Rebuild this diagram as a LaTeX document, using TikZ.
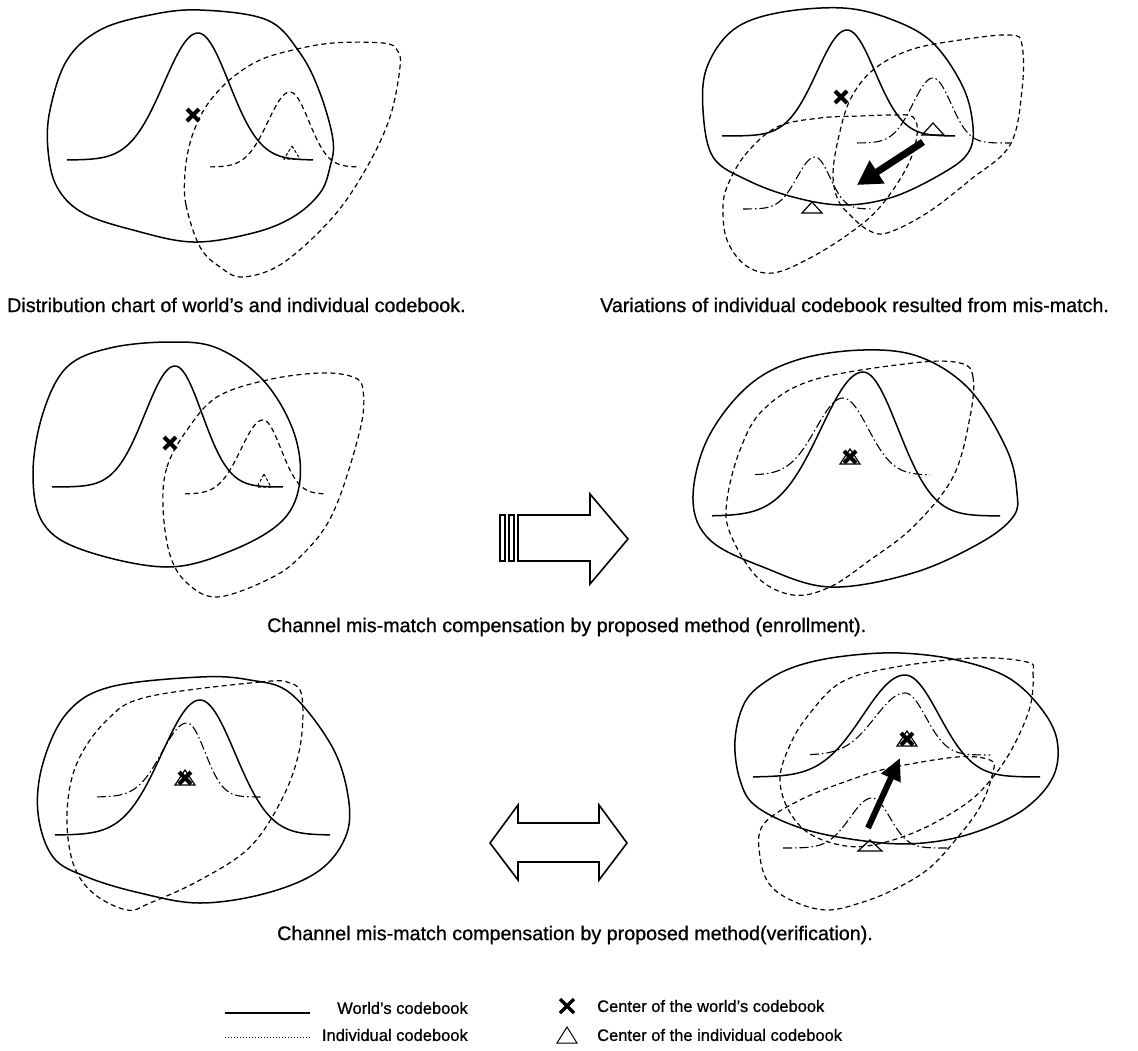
\documentclass[tikz,border=0pt]{standalone}
\usepackage{fontspec}
\setmainfont{Liberation Sans}[FakeBold=0.8]
\usetikzlibrary{arrows.meta}
\newcommand{\gss}[8]{\draw[#8] plot[domain=#1:#3, samples=50] (\x, {#4-#5*exp(-((\x-#3)/#6)*((\x-#3)/#6)/2)}) -- plot[domain=#3:#2, samples=50] (\x, {#4-#5*exp(-((\x-#3)/#7)*((\x-#3)/#7)/2)});}
\newcommand{\crossat}[2]{\draw[line width=4pt, shift={(#1)}] (-#2,-#2) -- (#2,#2) (-#2,#2) -- (#2,-#2);}
\newcommand{\triat}[4]{\draw[#4, shift={(#1)}] (0,-#2) -- (#3,0) -- (-#3,0) -- cycle;}
\begin{document}
\begin{tikzpicture}[x=1pt,y=-1pt,
  world/.style={line width=1.5pt, line join=round},
  indiv/.style={line width=1.2pt, dash pattern=on 5pt off 3.5pt},
  shifted/.style={line width=1.1pt, dash pattern=on 9pt off 3pt on 1.5pt off 3pt},
  captxt/.style={font=\fontsize{19.7}{23}\selectfont, inner sep=0pt},
  legtxt/.style={font=\fontsize{16.5}{20}\selectfont, inner sep=0pt},
  tri/.style={line width=1.2pt, line join=miter},
  smalltri/.style={line width=1pt, densely dashed},
  bigarrow/.style={line width=7pt, -{Triangle[length=24pt,width=26pt]}},
  hollow/.style={line width=1.6pt, line join=miter},
]
\useasboundingbox (0,0) rectangle (1138,1050);

% ---------- Panel 1 ----------
\draw[world] plot[smooth cycle, tension=0.6] coordinates {(200,10) (267,20) (300,53) (320,93) (333,140) (330,167) (320,193) (293,217) (253,233) (193,242) (133,230) (83,213) (57,187) (48,150) (50,110) (67,60) (100,30) (150,15)};
\gss{67}{313}{198}{160}{127}{34}{31}{world}
\draw[indiv] plot[smooth cycle, tension=0.6] coordinates {(185,173) (186,205) (200,247) (220,267) (243,277) (283,263) (333,217) (367,167) (390,117) (400,67) (397,50) (383,43) (333,43) (293,50) (260,60) (233,77) (213,97) (200,117) (190,143)};
\gss{210}{360}{290}{167}{75}{22}{19}{indiv}
\crossat{193,115}{6}
\triat{292,159}{13}{8}{smalltri}

% ---------- Panel 2 ----------
\draw[world] plot[smooth cycle, tension=0.6] coordinates {(843,8) (893,20) (933,43) (963,87) (973,127) (968,153) (943,173) (893,197) (843,205) (793,197) (747,180) (713,157) (703,110) (707,67) (733,30) (777,13)};
\gss{722}{955}{847}{136}{106}{30}{28}{world}
\draw[indiv] plot[smooth cycle, tension=0.6] coordinates {(833,175) (838,140) (850,100) (873,70) (910,50) (960,40) (1010,35) (1022,45) (1022,90) (1010,145) (970,180) (927,213) (887,233) (868,230) (850,215) (838,200)};
\gss{857}{1010}{933}{143}{65}{20}{18}{shifted}
\draw[indiv] plot[smooth cycle, tension=0.6] coordinates {(727,187) (745,155) (777,127) (820,118) (860,116) (893,115) (913,117) (917,135) (907,167) (880,207) (850,233) (810,258) (773,273) (745,265) (727,240) (723,210)};
\gss{743}{873}{815}{209}{52}{18}{15}{shifted}
\crossat{841,97}{6}
\triat{933,135}{12}{11}{tri}
\triat{812,213}{11}{10}{tri}
\draw[bigarrow] (923,142) -- (857,185);

\node[captxt, anchor=west] (cap1) at (7,305) {Distribution chart of world's and individual codebook.};
\node[captxt, anchor=west] (cap2) at (600,305) {Variations of individual codebook resulted from mis-match.};

% ---------- Panel 3 ----------
\draw[world] plot[smooth cycle, tension=0.6] coordinates {(170,342) (217,348) (263,380) (293,430) (300,480) (283,520) (233,550) (167,567) (83,550) (43,523) (33,473) (43,413) (67,367) (110,348)};
\gss{52}{283}{175}{487}{121}{30}{27}{world}
\draw[indiv] plot[smooth cycle, tension=0.6] coordinates {(163,507) (167,467) (187,430) (217,397) (267,380) (320,373) (353,377) (363,390) (360,430) (333,513) (300,557) (267,580) (217,597) (187,583) (170,555)};
\gss{185}{325}{263}{494}{74}{22}{18}{indiv}
\crossat{170,443}{6}
\triat{264,487}{13}{7}{smalltri}

% enrollment arrow
\draw[hollow] (500,515) rectangle (505,561);
\draw[hollow] (509,515) rectangle (514,561);
\draw[hollow] (518,515) -- (590,515) -- (590,494) -- (628,539) -- (590,584) -- (590,561) -- (518,561) -- cycle;

% ---------- Panel 4 ----------
\draw[world] plot[smooth cycle, tension=0.6] coordinates {(863,350) (920,357) (970,390) (1007,450) (1017,493) (1013,517) (980,543) (913,573) (830,587) (763,567) (710,540) (693,500) (707,440) (747,387) (797,360)};
\gss{712}{1000}{863}{516}{144}{42}{35}{world}
\draw[indiv] plot[smooth cycle, tension=0.6] coordinates {(960,363) (973,377) (970,417) (953,477) (913,527) (870,560) (830,587) (793,595) (757,577) (730,533) (727,500) (740,450) (763,410) (813,380) (913,363)};
\gss{755}{930}{843}{475}{77}{27}{25}{shifted}
\triat{850,464}{15}{10}{tri}
\crossat{850,457}{6}

\node[captxt, anchor=west] (cap3) at (267,627) {Channel mis-match compensation by proposed method (enrollment).};

% ---------- Panel 5 ----------
\draw[world] plot[smooth cycle, tension=0.6] coordinates {(200,677) (250,680) (290,693) (330,743) (347,790) (347,833) (320,870) (267,893) (200,903) (140,893) (87,877) (53,857) (38,813) (43,763) (67,713) (110,687)};
\gss{55}{330}{200}{835}{135}{38}{35}{world}
\draw[indiv] plot[smooth cycle, tension=0.6] coordinates {(147,697) (260,682) (290,683) (302,697) (300,747) (283,797) (250,847) (200,880) (150,903) (127,910) (93,893) (73,863) (67,813) (77,763) (107,720)};
\gss{97}{263}{187}{797}{74}{25}{18}{shifted}
\triat{185,785}{15}{10}{tri}
\crossat{185,778}{6}

% verification double arrow
\draw[hollow] (490,843) -- (518,805) -- (518,823) -- (599,823) -- (599,805) -- (627,843) -- (599,880) -- (599,862) -- (518,862) -- (518,880) -- cycle;

% ---------- Panel 6 ----------
\draw[world] plot[smooth cycle, tension=0.6] coordinates {(900,653) (957,660) (1007,677) (1040,707) (1057,740) (1053,777) (1023,810) (973,833) (923,843) (873,842) (807,830) (757,807) (740,780) (735,740) (745,702) (768,680) (800,665) (845,656)};
\gss{753}{1040}{905}{777}{102}{42}{34}{world}
\draw[indiv] plot[smooth cycle, tension=0.6] coordinates {(1027,662) (1033,673) (1030,707) (1013,747) (993,777) (967,803) (920,830) (873,845) (840,845) (807,832) (787,807) (780,777) (790,745) (807,717) (840,683) (890,668) (973,658)};
\gss{810}{990}{905}{755}{62}{30}{21}{shifted}
\draw[indiv] plot[smooth cycle, tension=0.6] coordinates {(763,825) (800,800) (850,780) (890,768) (957,757) (990,760) (993,772) (980,807) (953,843) (927,870) (893,890) (860,903) (827,910) (795,902) (770,885) (760,857)};
\gss{783}{950}{872}{848}{50}{22}{18}{shifted}
\triat{870,851}{11}{12}{tri}
\triat{907,746}{15}{10}{tri}
\crossat{907,739}{6}
\draw[line width=6pt, -{Triangle[length=22pt,width=20pt]}] (868,828) -- (900,758);

\node[captxt, anchor=west] (cap4) at (277,935) {Channel mis-match compensation by proposed method(verification).};

% ---------- Legend ----------
\draw[world] (225,1013) -- (310,1013);
\draw[line width=1pt, dotted] (225,1037) -- (310,1037);
\node[legtxt, anchor=east] (l1) at (468,1008) {World's codebook};
\node[legtxt, anchor=east] (l2) at (468,1035) {Individual codebook};
\draw[line width=3.5pt, shift={(567,1006)}] (-7,-7) -- (7,7) (-7,7) -- (7,-7);
\triat{567,1043}{16}{10}{line width=1pt}
\node[legtxt, anchor=west] (l3) at (597,1006) {Center of the world's codebook};
\node[legtxt, anchor=west] (l4) at (597,1035) {Center of the individual codebook};
\end{tikzpicture}
\end{document}
